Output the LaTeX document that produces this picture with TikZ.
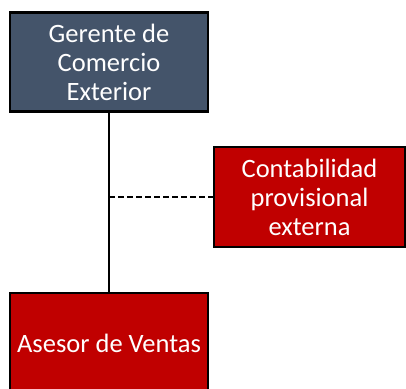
\documentclass[tikz,border=0pt]{standalone}
\usepackage{fontspec}
\setmainfont{Carlito}
\usetikzlibrary{positioning}

\newlength{\du}
\setlength{\du}{1pt}

\definecolor{gerentecolor}{rgb}{0.266667, 0.329412, 0.415686}
\definecolor{areacolor}{rgb}{0.752941, 0.000000, 0.000000}

\tikzset{
  cargo/.style={draw=black, line width=2.5\du, text=white, align=center,
    minimum width=198\du, minimum height=99\du, inner sep=0pt,
    font=\fontsize{26.5}{29}\selectfont},
  linea/.style={draw=black, line width=2\du},
}

\begin{document}
\begin{tikzpicture}
\pgftransformxscale{1.000000}
\pgftransformyscale{-1.000000}
\useasboundingbox (0\du,0\du) rectangle (406\du,388\du);
\clip (0\du,0\du) rectangle (406\du,388\du);
% cajas
\node[cargo, fill=gerentecolor] (gerente) at (109\du,62\du){Gerente de\\Comercio\\Exterior};
\node[cargo, fill=areacolor, minimum width=191\du, minimum height=100\du] (contab) at (309.5\du,197\du){Contabilidad\\provisional\\externa};
\node[cargo, fill=areacolor, minimum height=100\du] (asesor) at (109\du,343\du){Asesor de Ventas};
% lineas
\coordinate (cruce) at (gerente.south |- contab.west);
\draw[linea] (gerente.south)--(asesor.north);
\draw[linea, dash pattern=on 6\du off 3\du] (cruce)--(contab.west);
\end{tikzpicture}
\end{document}
